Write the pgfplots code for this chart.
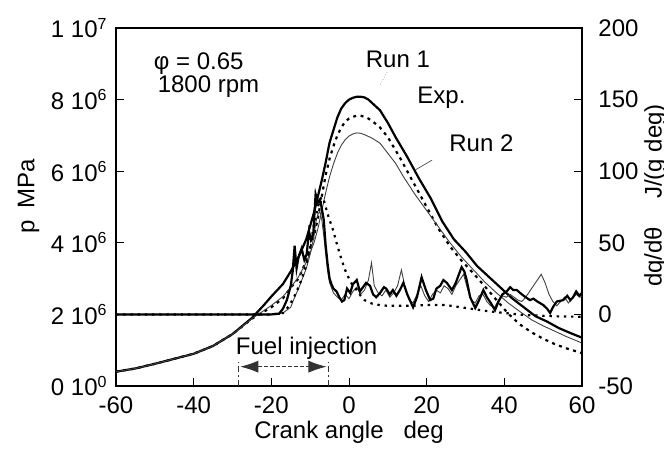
\documentclass[border=0pt]{standalone}
\usepackage{fontspec}
\setmainfont{Liberation Sans}
\usepackage{pgfplots}
\pgfplotsset{compat=1.18}
\usetikzlibrary{arrows.meta}
\begin{document}
\fontsize{12}{14}\selectfont
\begin{tikzpicture}
\useasboundingbox (-58pt,-32pt) rectangle (274pt,193pt);
\begin{axis}[at={(0,0)}, anchor=south west, scale only axis,
  width=233pt, height=179pt,
  xmin=-60, xmax=60, ymin=0, ymax=10,
  xtick={-60,-40,-20,0,20,40,60},
  xticklabels={-60,-40,-20,0,20,40,60},
  ytick={0,2,4,6,8,10},
  yticklabels={0 10\textsuperscript{0},2 10\textsuperscript{6},4 10\textsuperscript{6},6 10\textsuperscript{6},8 10\textsuperscript{6},1 10\textsuperscript{7}},
  tick pos=left, tick align=inside, major tick length=4pt,
  axis line style={line width=0.7pt},
  every tick/.style={line width=0.5pt, black},
  every tick label/.append style={font=\fontsize{12}{14}\selectfont},
  xticklabel style={yshift=-1pt},
  clip=false]
% Run 1 pressure (solid thick)
\addplot[black, line width=1.1pt] coordinates {
(-60,0.40)(-55,0.49)(-50,0.62)(-45,0.76)(-40,0.90)(-35,1.12)(-30,1.45)(-25,1.90)
(-22,2.25)(-20,2.50)(-17,2.85)(-15,3.20)(-13,3.60)(-11,4.10)(-9,4.85)(-8,5.30)
(-7,5.75)(-6,6.25)(-5,6.80)(-4,7.15)(-3,7.50)(-2,7.75)(-1,7.90)(0,8.00)(1,8.05)
(2,8.08)(3,8.08)(4,8.06)(5,8.00)(6,7.90)(8,7.70)(10,7.35)(12,6.95)(15,6.40)
(18,5.80)(21,5.25)(24,4.60)(27,4.10)(30,3.75)(33,3.35)(36,3.05)(39,2.75)(42,2.45)
(45,2.20)(48,1.95)(51,1.80)(54,1.62)(57,1.48)(60,1.35)};
% Exp pressure (dashed thick)
\addplot[black, line width=1.1pt, dash pattern=on 1.5pt off 2.2pt] coordinates {
(-60,0.40)(-55,0.49)(-50,0.62)(-45,0.76)(-40,0.90)(-35,1.12)(-30,1.45)(-25,1.88)
(-20,2.20)(-17,2.45)(-15,2.75)(-13,3.00)(-11,3.50)(-9,4.20)(-8,4.70)(-7,5.30)
(-6,5.90)(-5,6.35)(-4,6.70)(-3,7.00)(-2,7.22)(-1,7.38)(0,7.47)(1,7.52)(2,7.55)
(3,7.55)(4,7.52)(5,7.47)(6,7.40)(8,7.22)(10,6.95)(13,6.40)(15,6.00)(17,5.60)
(20,5.00)(23,4.40)(26,3.90)(29,3.50)(32,3.15)(35,2.78)(38,2.40)(41,2.02)(44,1.72)
(47,1.50)(50,1.32)(53,1.17)(56,1.05)(60,0.92)};
% Run 2 pressure (thin)
\addplot[black!75, line width=0.45pt] coordinates {
(-60,0.40)(-55,0.49)(-50,0.62)(-45,0.76)(-40,0.90)(-35,1.12)(-30,1.45)(-25,1.88)
(-20,2.25)(-17,2.50)(-15,2.75)(-13,3.05)(-11,3.45)(-9,4.00)(-8,4.40)(-7,4.90)
(-6,5.40)(-5,5.85)(-4,6.20)(-3,6.50)(-2,6.72)(-1,6.88)(0,6.98)(1,7.04)(2,7.07)
(3,7.06)(4,7.02)(5,6.97)(6,6.92)(8,6.78)(10,6.50)(12,6.22)(14,5.85)(17,5.35)
(20,4.90)(23,4.45)(26,4.00)(29,3.60)(32,3.25)(35,2.90)(38,2.60)(41,2.32)(44,2.08)
(47,1.85)(50,1.68)(53,1.53)(56,1.38)(60,1.20)};
% labels
\node[anchor=west] at (axis cs:-52.4,9.0) {φ = 0.65};
\node[anchor=west] at (axis cs:-51.4,8.35) {1800 rpm};
\node at (axis cs:12.6,9.11) {Run 1};
\node at (axis cs:23.8,8.04) {Exp.};
\node at (axis cs:34.1,6.79) {Run 2};
\draw[black!70, line width=0.35pt] (axis cs:21.4,6.31) -- (axis cs:17.0,6.03);
\draw[black!40, line width=0.35pt, densely dotted] (axis cs:9.8,8.77) -- (axis cs:8.0,8.41);
% fuel injection
\node at (axis cs:-10.9,1.05) {Fuel injection};
\draw[black!80, line width=0.4pt, dash pattern=on 3pt off 1.5pt on 0.8pt off 1.5pt] (axis cs:-28.6,0) -- (axis cs:-28.6,0.67);
\draw[black!80, line width=0.4pt, dash pattern=on 3pt off 1.5pt on 0.8pt off 1.5pt] (axis cs:-5.4,0) -- (axis cs:-5.4,0.67);
\draw[black!80, line width=0.4pt, dash pattern=on 2pt off 1pt,
  {Latex[length=9pt,width=6pt]}-{Latex[length=9pt,width=6pt]}] (axis cs:-28,0.54) -- (axis cs:-5.8,0.54);
\node[rotate=90] at (axis cs:-82.5,5.3) {p\hspace{6pt}MPa};
\node at (axis cs:0,-1.3) {Crank angle\hspace{10pt}deg};
\end{axis}
\begin{axis}[at={(0,0)}, anchor=south west, scale only axis,
  width=233pt, height=179pt,
  xmin=-60, xmax=60, ymin=-50, ymax=200,
  axis x line=none, axis y line*=right,
  ytick={-50,0,50,100,150,200},
  yticklabels={-50,0,50,100,150,200},
  tick align=inside, major tick length=4pt,
  axis line style={line width=0.7pt},
  every tick/.style={line width=0.5pt, black},
  every tick label/.append style={font=\fontsize{12}{14}\selectfont},
  yticklabel style={xshift=4pt},
  clip=false]
% thin noisy heat release
\addplot[black!75, line width=0.45pt] coordinates {
(-60,0)(-20,0)(-17,1)(-15,5)(-14,12)(-13,18)(-12,25)(-11,32)(-10,42)(-9,55)(-8.5,65)
(-8,70)(-7.5,72)(-7,66)(-6.5,55)(-6,42)(-5.5,30)(-5,22)(-4,15)(-3,12)(-2,10)(-1,14)
(0,11)(1,16)(2,19)(3,14)(4,17)(5,24)(5.8,36)(6.5,20)(7.5,15)(8.5,13)(9.5,17)(10.5,12)
(11.5,15)(12.5,20)(13.5,31)(14.5,18)(15.5,10)(16.5,8)(17.5,14)(18.5,20)(19.5,13)
(20.5,9)(21.5,14)(22.5,17)(23.5,15)(24.5,20)(25.5,18)(26.5,14)(27.5,20)(28.5,24)
(29.5,28)(30.5,18)(31.5,10)(32.5,8)(33.5,13)(34.5,14)(35.5,9)(36.5,6)(37.5,5)
(38.5,10)(39.5,13)(40.5,12)(41.5,14)(42.5,12)(43.5,10)(44.5,9)(45.5,12)(46.5,16)
(47.5,20)(48.5,24)(49.5,28)(50.5,22)(51.5,14)(52.5,9)(53.5,6)(54.5,9)(55.5,12)
(56.5,8)(57.5,11)(58.5,14)(59.5,12)(60,13)};
% dotted heat release
\addplot[black, line width=1.1pt, dash pattern=on 1.2pt off 2.4pt] coordinates {
(-60,0)(-20,0)(-17,1)(-16,4)(-15,8)(-14,13)(-13,19)(-12,26)(-11,35)(-10,47)(-9,63)
(-8,75)(-7.5,80)(-7,82)(-6.5,80)(-6,75)(-5.5,70)(-5,66)(-4,58)(-3,48)(-2,39)(-1,31)
(0,25)(1,20)(2,17)(3,13)(4,10)(5,8.5)(6,7.5)(8,6.5)(10,6)(15,6)(20,6.5)(25,6.5)
(30,4.5)(35,2.5)(40,1)(45,-0.4)(50,-1)(55,-1.5)(60,-1.6)};
% thick noisy heat release
\addplot[black, line width=1.1pt] coordinates {
(-60,0)(-25,0)(-20,0)(-18,0.5)(-17,4)(-16,10)(-15,20)(-14.5,30)(-14,48)(-13.5,32)
(-13,40)(-12.2,46)(-11.5,38)(-10.9,42)(-10.3,58)(-9.8,52)(-9.2,56)(-8.6,84)(-8.0,78)
(-7.5,80)(-7,74)(-6.5,66)(-6,48)(-5.5,35)(-5,25)(-4.5,21)(-4,18)(-3.2,16)(-2.5,12)
(-1.8,9)(-1.2,10)(-0.5,18)(0.3,15)(1,21)(2,24)(2.8,16)(3.6,19)(4.4,22)(5.4,20)
(6.2,14)(7,12)(8,15)(9,19)(9.6,18)(10.5,14)(11.3,17)(12.2,13)(13.1,17)(14,22)
(15,14)(16.5,5)(17.5,12)(18.7,26)(19.8,17)(20.9,10)(21.7,11)(22.5,18)(23.5,20)
(24.3,24)(25.2,22)(26.5,17)(27.5,22)(28.3,28)(29,33)(29.7,30)(30.3,24)(31.2,12)
(32.5,4.5)(33.5,10)(34.6,17)(35.5,12)(36.5,8)(37.6,3)(38.5,9)(39.5,14)(40.6,16)
(41.5,19)(42.3,17)(43.2,17)(44.5,14)(45.5,12)(46.6,10)(47.5,11)(48.5,9)(50,6.6)
(51,4)(51.8,1)(52.5,5)(53.5,9)(55.2,10)(56.2,13)(57,10)(57.7,12)(58.5,16)(59.3,13)(60,15)};
\node[rotate=90, inner sep=0pt] at (axis cs:78.9,83) {dq/dθ\hspace{14pt}J/(g deg)};
\end{axis}
\end{tikzpicture}
\end{document}
